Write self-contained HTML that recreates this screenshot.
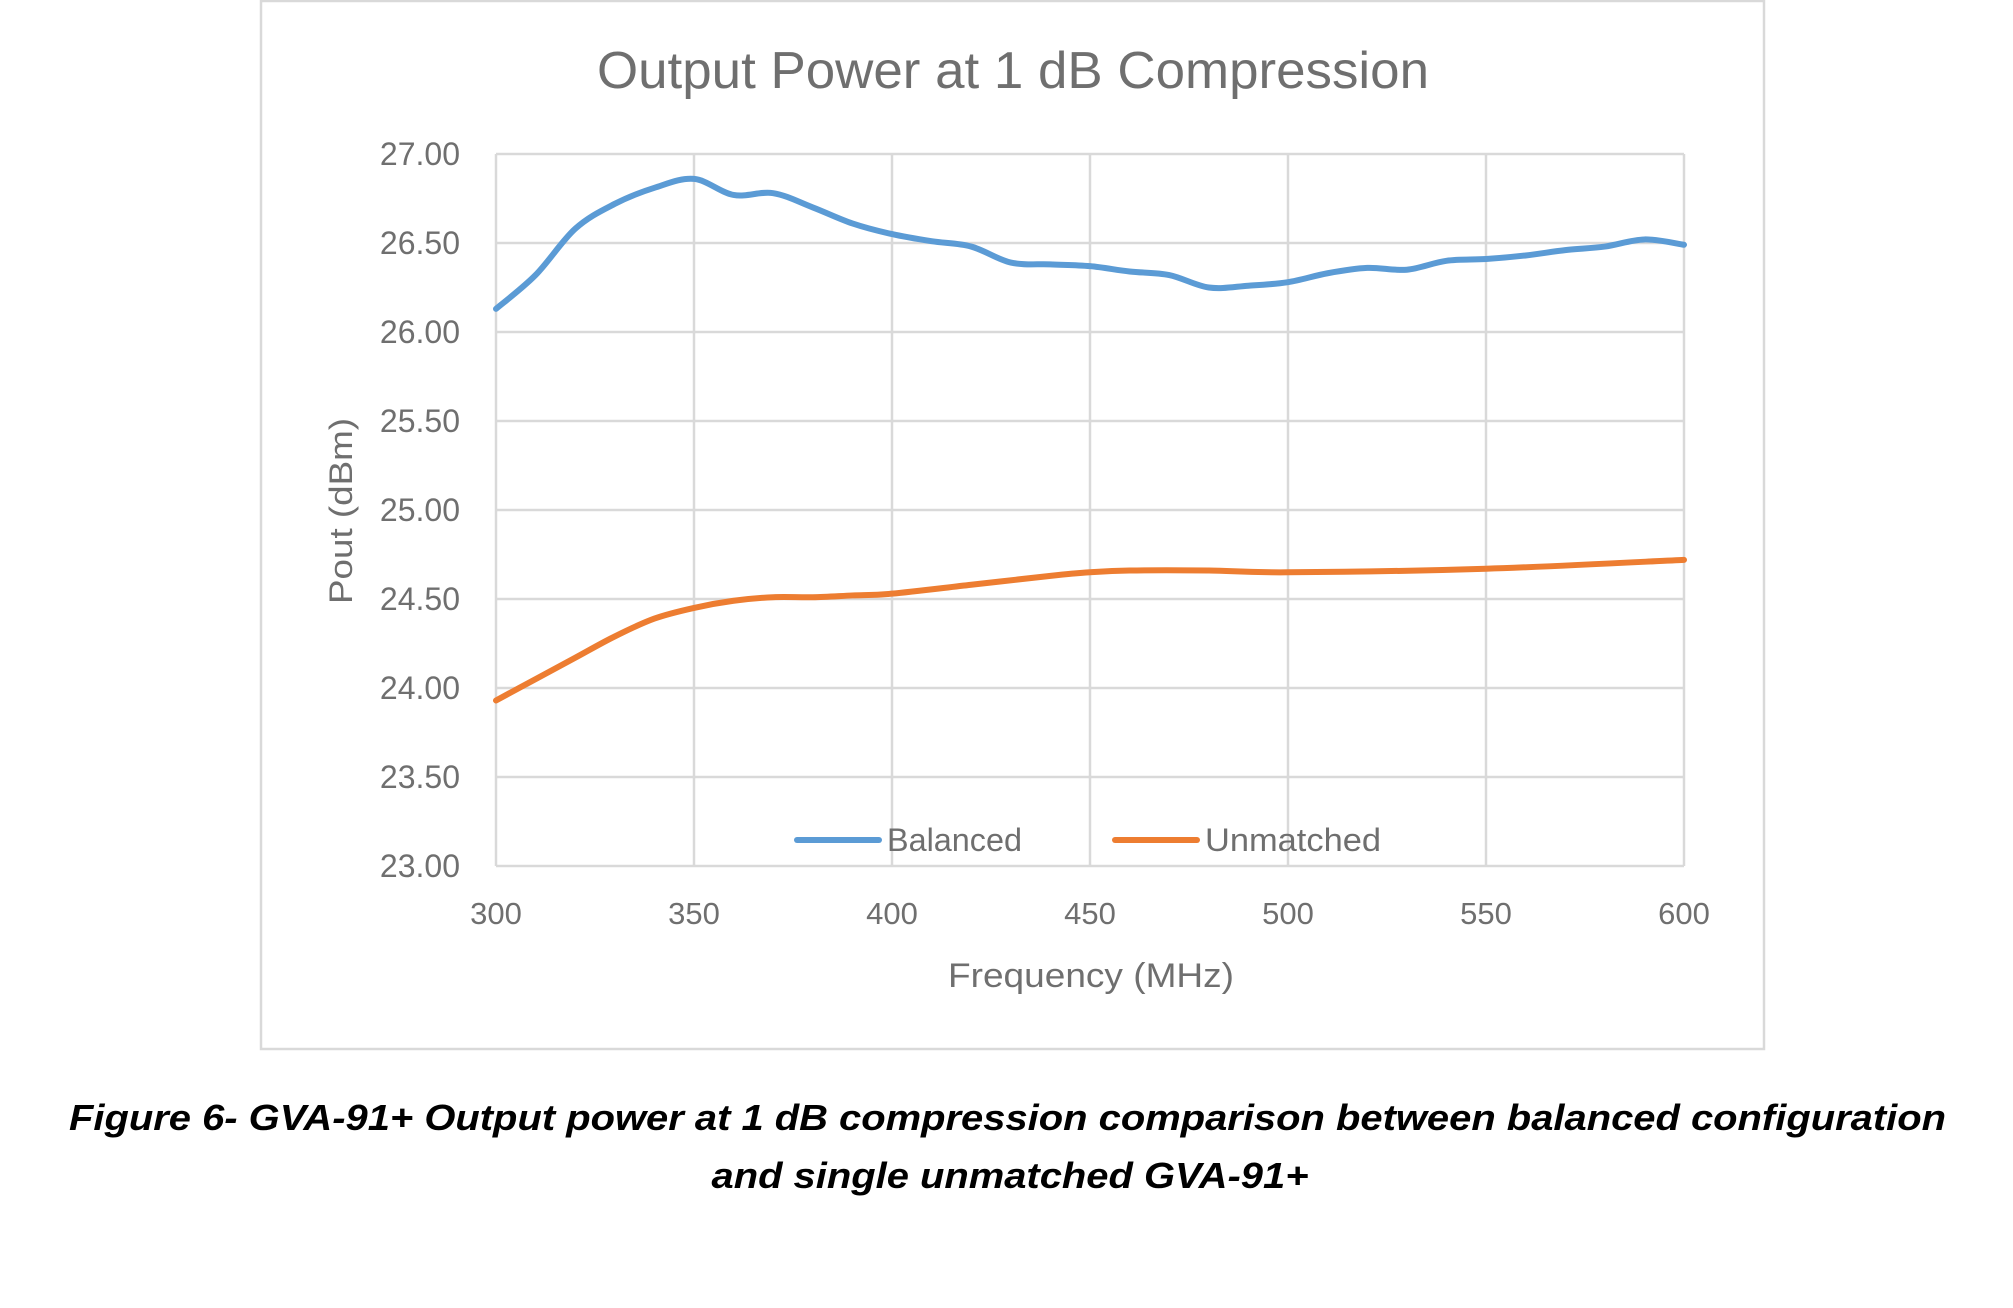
<!DOCTYPE html>
<html><head><meta charset="utf-8"><style>
html,body{margin:0;padding:0;background:#fff;}
svg{display:block;}
</style></head><body>
<svg id="s" width="2013" height="1308" viewBox="0 0 2013 1308" xmlns="http://www.w3.org/2000/svg" font-family="Liberation Sans, sans-serif">
<rect x="261" y="1" width="1503" height="1048" fill="#fff" stroke="#d9d9d9" stroke-width="2.5"/>
<text x="1013" y="88" font-size="52" fill="#6f6f6f" text-anchor="middle" textLength="832" lengthAdjust="spacingAndGlyphs">Output Power at 1 dB Compression</text>
<g id="grid" stroke="#d9d9d9" stroke-width="2.5"></g>
<g id="ylab" font-size="32" fill="#6f6f6f" text-anchor="end"></g>
<g id="xlab" font-size="31" fill="#6f6f6f" text-anchor="middle"></g>
<path id="b" fill="none" stroke="#5B9BD5" stroke-width="6" stroke-linecap="round" stroke-linejoin="round"/>
<path id="u" fill="none" stroke="#ED7D31" stroke-width="6" stroke-linecap="round" stroke-linejoin="round"/>
<line x1="797" y1="840" x2="879" y2="840" stroke="#5B9BD5" stroke-width="6" stroke-linecap="round"/>
<text x="887" y="851" font-size="32" fill="#6f6f6f" textLength="135" lengthAdjust="spacingAndGlyphs">Balanced</text>
<line x1="1115" y1="840" x2="1197" y2="840" stroke="#ED7D31" stroke-width="6" stroke-linecap="round"/>
<text x="1205" y="851" font-size="32" fill="#6f6f6f" textLength="176" lengthAdjust="spacingAndGlyphs">Unmatched</text>
<text x="1091" y="987" font-size="34" fill="#6f6f6f" text-anchor="middle" textLength="286" lengthAdjust="spacingAndGlyphs">Frequency (MHz)</text>
<text transform="translate(352,511) rotate(-90)" font-size="32" fill="#6f6f6f" text-anchor="middle" textLength="186" lengthAdjust="spacingAndGlyphs">Pout (dBm)</text>
<text x="69" y="1130" font-size="36" font-weight="bold" font-style="italic" fill="#000" textLength="1877" lengthAdjust="spacingAndGlyphs">Figure 6- GVA-91+ Output power at 1 dB compression comparison between balanced configuration</text>
<text x="1010" y="1188" font-size="36" font-weight="bold" font-style="italic" fill="#000" text-anchor="middle" textLength="597" lengthAdjust="spacingAndGlyphs">and single unmatched GVA-91+</text>
</svg>
<script>
var NS="http://www.w3.org/2000/svg";
function X(f){return 496+(f-300)*3.96;}
function Y(v){return 154+(27-v)*178;}
var g=document.getElementById('grid'),yl=document.getElementById('ylab'),xl=document.getElementById('xlab');
for(var i=0;i<=8;i++){var v=27-i*0.5,y=Y(v);
 var l=document.createElementNS(NS,'line');l.setAttribute('x1',496);l.setAttribute('x2',X(600));l.setAttribute('y1',y);l.setAttribute('y2',y);g.appendChild(l);
 var t=document.createElementNS(NS,'text');t.setAttribute('x',460);t.setAttribute('y',y+11);t.textContent=v.toFixed(2);yl.appendChild(t);}
for(var f=300;f<=600;f+=50){var x=X(f);
 var l=document.createElementNS(NS,'line');l.setAttribute('x1',x);l.setAttribute('x2',x);l.setAttribute('y1',154);l.setAttribute('y2',866);g.appendChild(l);
 var t=document.createElementNS(NS,'text');t.setAttribute('x',x);t.setAttribute('y',924);t.textContent=f;xl.appendChild(t);}
function path(d){var p=d.map(function(a){return [X(a[0]),Y(a[1])];});var s='M'+p[0][0]+','+p[0][1];
 for(var i=0;i<p.length-1;i++){var p0=p[i-1]||p[i],p1=p[i],p2=p[i+1],p3=p[i+2]||p2;
  s+=' C'+(p1[0]+(p2[0]-p0[0])/6)+','+(p1[1]+(p2[1]-p0[1])/6)+' '+(p2[0]-(p3[0]-p1[0])/6)+','+(p2[1]-(p3[1]-p1[1])/6)+' '+p2[0]+','+p2[1];}
 return s;}
var B=[[300,26.13],[310,26.32],[320,26.58],[330,26.72],[340,26.81],[350,26.86],[360,26.77],[370,26.78],[380,26.70],[390,26.61],[400,26.55],[410,26.51],[420,26.48],[430,26.39],[440,26.38],[450,26.37],[460,26.34],[470,26.32],[480,26.25],[490,26.26],[500,26.28],[510,26.33],[520,26.36],[530,26.35],[540,26.40],[550,26.41],[560,26.43],[570,26.46],[580,26.48],[590,26.52],[600,26.49]];
var U=[[300,23.93],[310,24.05],[320,24.17],[330,24.29],[340,24.39],[350,24.45],[360,24.49],[370,24.51],[380,24.51],[390,24.52],[400,24.53],[420,24.58],[440,24.63],[450,24.65],[460,24.66],[480,24.66],[500,24.65],[550,24.67],[600,24.72]];
document.getElementById('b').setAttribute('d',path(B));
document.getElementById('u').setAttribute('d',path(U));
</script>
</body></html>
